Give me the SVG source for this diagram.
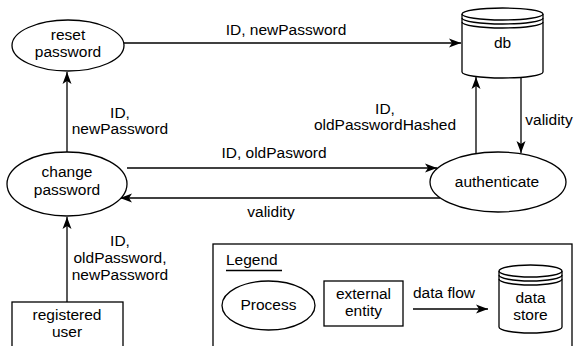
<svg xmlns="http://www.w3.org/2000/svg" width="574" height="346" viewBox="0 0 574 346">
  <style>
    text { font-family: "Liberation Sans", Arial, Helvetica, sans-serif; font-size: 15.5px; fill: #000; text-anchor: middle; }
    .shape { fill: #fff; stroke: #000; stroke-width: 1.3; }
    .line { fill: none; stroke: #000; stroke-width: 1.3; }
    .flow { fill: none; stroke: #000; stroke-width: 1.3; marker-end: url(#arrow); }
  </style>
  <defs>
    <marker id="arrow" markerUnits="userSpaceOnUse" markerWidth="14" markerHeight="12" viewBox="0 0 14 12" refX="13" refY="6" orient="auto">
      <path d="M1,1.5 L13,6 L1,10.5 L4,6 Z" fill="#000"/>
    </marker>
  </defs>

  <rect width="574" height="346" fill="#fff"/>

  <!-- data flows -->
  <g id="connectors">
    <path class="flow" d="M124,43 H461"/>
    <path class="flow" d="M67,152 V72"/>
    <path class="flow" d="M127,168 H437"/>
    <path class="flow" d="M440,198 H120"/>
    <path class="flow" d="M476,154 V77"/>
    <path class="flow" d="M521,77 V153"/>
    <path class="flow" d="M67,302 V217"/>
    <text x="286" y="35">ID, newPassword</text>
    <text x="120" y="118">ID,</text>
    <text x="120" y="134">newPassword</text>
    <text x="385" y="114">ID,</text>
    <text x="385" y="130">oldPasswordHashed</text>
    <text x="549" y="125">validity</text>
    <text x="274" y="158">ID, oldPasword</text>
    <text x="271" y="217">validity</text>
    <text x="120" y="246">ID,</text>
    <text x="120" y="263">oldPassword,</text>
    <text x="120" y="280">newPassword</text>
  </g>

  <g id="reset-password">
    <ellipse class="shape" cx="68" cy="45.5" rx="56" ry="25.5"/>
    <text x="68" y="40">reset</text>
    <text x="68" y="57">password</text>
  </g>

  <g id="db">
    <path class="shape" d="M462,14 A40.5,6 0 0 1 543,14 V72 A40.5,6 0 0 1 462,72 Z"/>
    <path class="line" d="M462,14 A40.5,6 0 0 0 543,14 M462,18 A40.5,6 0 0 0 543,18 M462,22 A40.5,6 0 0 0 543,22"/>
    <text x="502.5" y="48">db</text>
  </g>

  <g id="change-password">
    <ellipse class="shape" cx="67" cy="184" rx="60" ry="32"/>
    <text x="67" y="177">change</text>
    <text x="67" y="195">password</text>
  </g>

  <g id="authenticate">
    <ellipse class="shape" cx="498" cy="182" rx="68" ry="30"/>
    <text x="497" y="187">authenticate</text>
  </g>

  <g id="registered-user">
    <rect class="shape" x="12" y="302" width="111" height="60"/>
    <text x="67" y="320">registered</text>
    <text x="67" y="337">user</text>
  </g>

  <g id="legend">
    <rect class="shape" x="213" y="244" width="359" height="120"/>
    <text x="226" y="265" style="text-anchor:start">Legend</text>
    <path class="line" d="M226,270.5 H282" stroke-width="1"/>
    <ellipse class="shape" cx="268.5" cy="305.5" rx="46.5" ry="24.5"/>
    <text x="268.5" y="310">Process</text>
    <rect class="shape" x="324" y="281" width="79" height="45"/>
    <text x="363.5" y="299">external</text>
    <text x="363.5" y="316">entity</text>
    <path class="flow" d="M413,309 H488"/>
    <text x="444" y="298">data flow</text>
    <path class="shape" d="M499,271 A31.5,6 0 0 1 562,271 V327 A31.5,6 0 0 1 499,327 Z"/>
    <path class="line" d="M499,271 A31.5,6 0 0 0 562,271 M499,275 A31.5,6 0 0 0 562,275 M499,279 A31.5,6 0 0 0 562,279"/>
    <text x="530.5" y="303">data</text>
    <text x="530.5" y="320">store</text>
  </g>
</svg>
